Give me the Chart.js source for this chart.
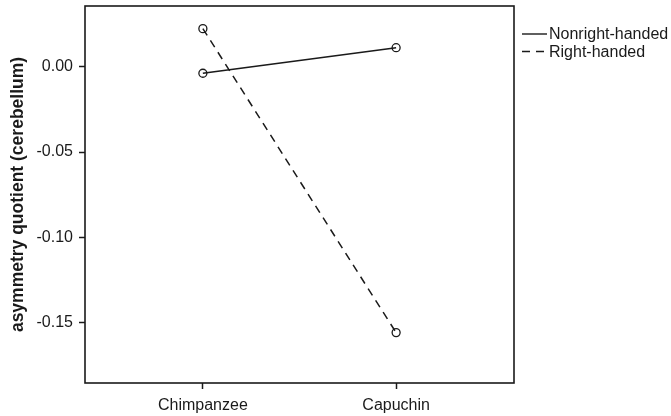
<!DOCTYPE html>
<html lang="en">
<head>
    <meta charset="UTF-8">
    <title>Asymmetry quotient (cerebellum)</title>
    <script src="https://cdn.jsdelivr.net/npm/chart.js"></script>
    <style>
        body {
            margin: 0;
            padding: 0;
            background-color: #fff;
        }
        #wrap {
            width: 671px;
            height: 416px;
        }
    </style>
</head>
<body>
    <div id="wrap"><canvas id="chart" width="671" height="416"></canvas></div>

    <script>
        const species = ['Chimpanzee', 'Capuchin'];
        const nonrightHanded = [-0.0037, 0.0113];
        const rightHanded = [0.0225, -0.1561];
        const yTicks = [0.00, -0.05, -0.10, -0.15];
        const seriesNames = ['Nonright-handed', 'Right-handed'];
        const seriesDash = [[], [8, 6]];

        const font = "'Liberation Sans', Arial, sans-serif";
        const ink = '#1a1a1a';

        // plot frame + legend drawn by hand (SPSS style)
        const framePlugin = {
            id: 'frame',
            afterDraw(chart) {
                const a = chart.chartArea;
                const ctx = chart.ctx;
                ctx.save();
                ctx.strokeStyle = ink;
                ctx.lineWidth = 1.6;
                ctx.strokeRect(a.left, a.top, a.right - a.left, a.bottom - a.top);

                ctx.font = '16px ' + font;
                ctx.fillStyle = ink;
                ctx.textBaseline = 'middle';
                seriesNames.forEach((name, i) => {
                    const y = 34 + i * 17.5;
                    ctx.beginPath();
                    ctx.lineWidth = 1.4;
                    ctx.setLineDash(seriesDash[i]);
                    ctx.moveTo(522, y);
                    ctx.lineTo(547, y);
                    ctx.stroke();
                    ctx.setLineDash([]);
                    ctx.fillText(name, 549, y + 1);
                });
                ctx.restore();
            }
        };

        function makePoints(values) {
            return values.map((v, i) => ({ x: i, y: v }));
        }

        new Chart(document.getElementById('chart'), {
            type: 'line',
            data: {
                datasets: [
                    {
                        label: seriesNames[0],
                        data: makePoints(nonrightHanded),
                        borderColor: ink,
                        borderWidth: 1.5,
                        borderDash: seriesDash[0],
                        pointRadius: 4,
                        pointBorderWidth: 1.3,
                        pointBorderColor: ink,
                        pointBackgroundColor: 'rgba(0,0,0,0)',
                        tension: 0
                    },
                    {
                        label: seriesNames[1],
                        data: makePoints(rightHanded),
                        borderColor: ink,
                        borderWidth: 1.5,
                        borderDash: seriesDash[1],
                        pointRadius: 4,
                        pointBorderWidth: 1.3,
                        pointBorderColor: ink,
                        pointBackgroundColor: 'rgba(0,0,0,0)',
                        tension: 0
                    }
                ]
            },
            options: {
                responsive: false,
                animation: false,
                layout: {
                    padding: { left: 0, top: 6, right: 157, bottom: 0 }
                },
                plugins: {
                    legend: { display: false },
                    tooltip: { enabled: false }
                },
                scales: {
                    x: {
                        type: 'linear',
                        min: -0.61,
                        max: 1.61,
                        afterBuildTicks: (scale) => {
                            scale.ticks = species.map((s, i) => ({ value: i }));
                        },
                        afterFit: (scale) => {
                            scale.height = 33;
                            scale.paddingLeft = 0;
                            scale.paddingRight = 0;
                        },
                        grid: {
                            drawOnChartArea: false,
                            drawTicks: true,
                            tickLength: 6,
                            tickWidth: 1.5,
                            tickColor: ink
                        },
                        border: { display: false },
                        ticks: {
                            autoSkip: false,
                            maxRotation: 0,
                            padding: 7,
                            color: ink,
                            font: { family: font, size: 16 },
                            callback: (v) => species[v]
                        }
                    },
                    y: {
                        min: -0.1857,
                        max: 0.0358,
                        afterBuildTicks: (scale) => {
                            scale.ticks = yTicks.map(v => ({ value: v }));
                        },
                        afterFit: (scale) => {
                            scale.width = 85;
                            scale.paddingTop = 0;
                            scale.paddingBottom = 0;
                        },
                        grid: {
                            drawOnChartArea: false,
                            drawTicks: true,
                            tickLength: 6,
                            tickWidth: 1.5,
                            tickColor: ink
                        },
                        border: { display: false },
                        ticks: {
                            padding: 6,
                            color: ink,
                            font: { family: font, size: 16 },
                            callback: (v) => v.toFixed(2)
                        },
                        title: {
                            display: true,
                            text: 'asymmetry quotient (cerebellum)',
                            color: ink,
                            padding: { top: 8, bottom: 2 },
                            font: { family: font, size: 17.5, weight: 'bold' }
                        }
                    }
                }
            },
            plugins: [framePlugin]
        });
    </script>
</body>
</html>
